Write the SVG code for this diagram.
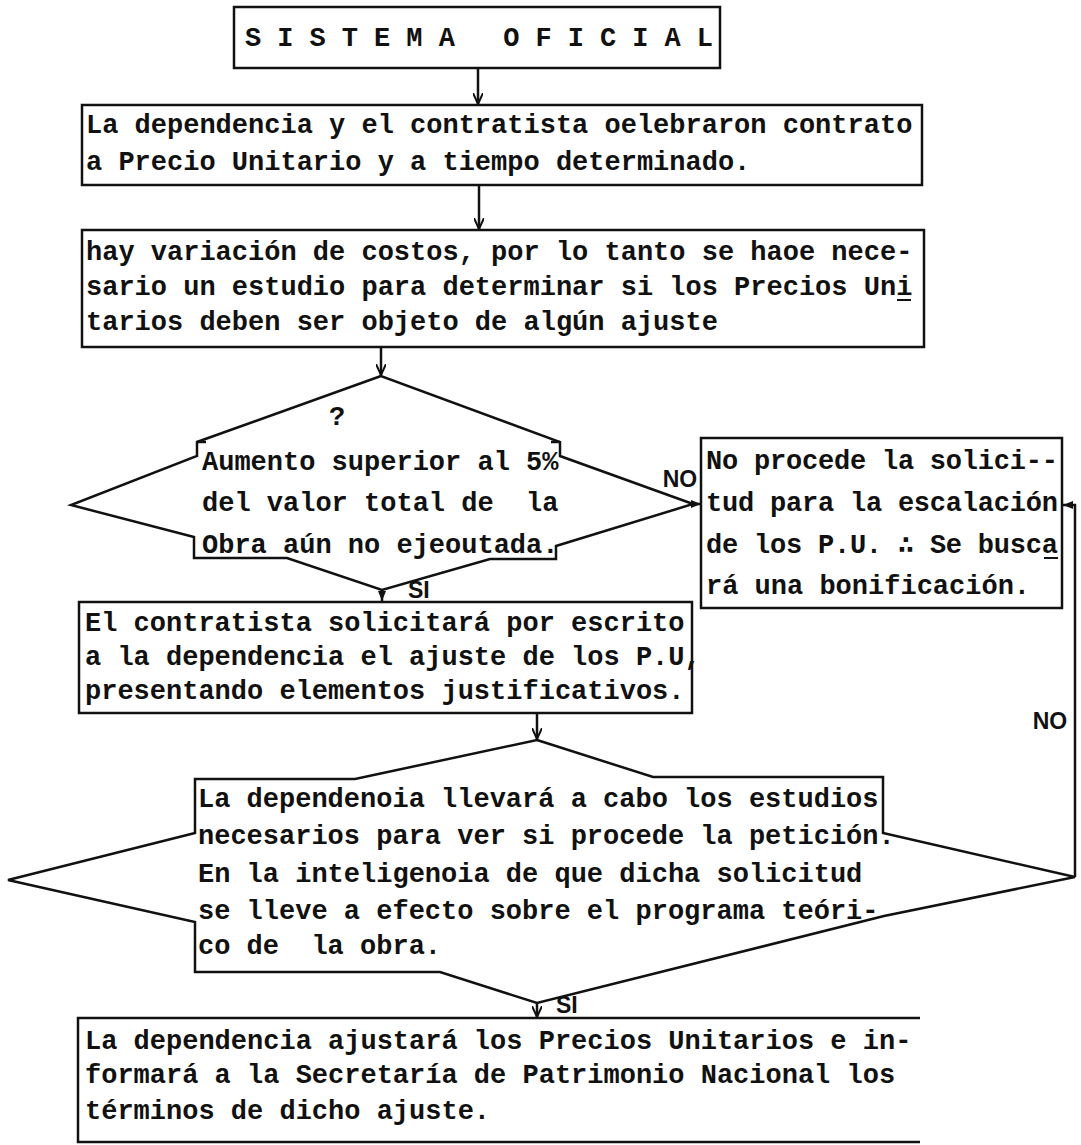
<svg xmlns="http://www.w3.org/2000/svg" width="1081" height="1145" viewBox="0 0 1081 1145">
<style>
.box{fill:none;stroke:#111;stroke-width:2.5;stroke-linejoin:miter}
.conn{fill:none;stroke:#111;stroke-width:2.5}
.t{font-family:"Liberation Mono","DejaVu Sans Mono",monospace;font-size:27px;font-weight:bold;fill:#111;white-space:pre}
.lbl{font-family:"Liberation Sans","DejaVu Sans",sans-serif;font-size:23px;font-weight:bold;fill:#111}
</style>
<defs>
<marker id="arrV" viewBox="0 0 12 10" refX="11" refY="5" markerWidth="12" markerHeight="10" markerUnits="userSpaceOnUse" orient="auto">
<path d="M0,0 L11,5 L0,10" fill="none" stroke="#111" stroke-width="2"/>
</marker>
<marker id="arrF" viewBox="0 0 10 8" refX="10" refY="4" markerWidth="10" markerHeight="8" markerUnits="userSpaceOnUse" orient="auto">
<path d="M0,0 L10,4 L0,8 Z" fill="#111"/>
</marker>
</defs>
<rect width="1081" height="1145" fill="#fff"/>

<g id="n-sistema">
<rect class="box" x="234" y="7" width="486" height="61"/>
<text class="t" x="245" y="46" textLength="468" lengthAdjust="spacing">S I S T E M A   O F I C I A L</text>
</g>

<g id="n-contrato">
<rect class="box" x="82" y="105" width="840" height="80"/>
<text class="t" x="86" y="133">La dependencia y el contratista oelebraron contrato</text>
<text class="t" x="86" y="170">a Precio Unitario y a tiempo determinado.</text>
</g>

<g id="n-variacion">
<rect class="box" x="82" y="230" width="842" height="117"/>
<text class="t" x="86" y="260">hay variación de costos, por lo tanto se haoe nece-</text>
<text class="t" x="86" y="295">sario un estudio para determinar si los Precios Uni</text>
<line x1="897" y1="300" x2="911" y2="300" stroke="#111" stroke-width="2"/>
<text class="t" x="86" y="330">tarios deben ser objeto de algún ajuste</text>
</g>

<g id="d-aumento">
<path class="box" d="M381,376 L197,442 L197,456 L71,505 L194,537 L194,558 L287,558 L382,590 L490,559 L556,559 L556,546 L693,504 L560,456 L560,442 Z"/>
<path class="box" d="M197,442 L206,442 M560,442 L551,442"/>
<text class="t" x="329" y="425">?</text>
<text class="t" x="202" y="470">Aumento superior al 5%</text>
<text class="t" x="202" y="511">del valor total de  la</text>
<text class="t" x="202" y="553">Obra aún no ejeoutada.</text>
</g>

<g id="n-noprocede">
<rect class="box" x="701" y="438" width="361" height="170"/>
<text class="t" x="706" y="469" textLength="352" lengthAdjust="spacing">No procede la solici--</text>
<text class="t" x="706" y="511" textLength="352" lengthAdjust="spacing">tud para la escalación</text>
<text class="t" x="706" y="553" textLength="352" lengthAdjust="spacing">de los P.U. ∴ Se busca</text>
<line x1="1044" y1="558" x2="1058" y2="558" stroke="#111" stroke-width="2"/>
<text class="t" x="706" y="594">rá una bonificación.</text>
</g>

<g id="n-solicita">
<rect class="box" x="79" y="602" width="613" height="111"/>
<text class="t" x="85" y="631">El contratista solicitará por escrito</text>
<text class="t" x="85" y="665">a la dependencia el ajuste de los P.U,</text>
<text class="t" x="85" y="699">presentando elementos justificativos.</text>
</g>

<g id="d-estudios">
<path class="box" d="M537,740 L653,777 L883,777 L883,833 L1075,877 L884,916 L537,1003 L440,972 L195,972 L195,922 L8,880 L195,833 L195,779 L355,779 Z"/>
<text class="t" x="198" y="807">La dependenoia llevará a cabo los estudios</text>
<text class="t" x="198" y="844">necesarios para ver si procede la petición.</text>
<text class="t" x="198" y="882">En la inteligenoia de que dicha solicitud</text>
<text class="t" x="198" y="919">se lleve a efecto sobre el programa teóri-</text>
<text class="t" x="198" y="954">co de  la obra.</text>
</g>

<g id="n-ajusta">
<path class="box" d="M920,1018 L78,1018 L78,1142 L920,1142"/>
<text class="t" x="85" y="1049">La dependencia ajustará los Precios Unitarios e in-</text>
<text class="t" x="85" y="1083">formará a la Secretaría de Patrimonio Nacional los</text>
<text class="t" x="85" y="1119">términos de dicho ajuste.</text>
</g>

<g id="connectors">
<line class="conn" x1="478" y1="68" x2="478" y2="104" marker-end="url(#arrV)"/>
<line class="conn" x1="479" y1="185" x2="479" y2="229" marker-end="url(#arrV)"/>
<line class="conn" x1="381" y1="347" x2="381" y2="375" marker-end="url(#arrV)"/>
<line class="conn" x1="382" y1="590" x2="382" y2="601" marker-end="url(#arrF)"/>
<line class="conn" x1="537" y1="713" x2="537" y2="739" marker-end="url(#arrV)"/>
<line class="conn" x1="537" y1="1003" x2="537" y2="1017" marker-end="url(#arrV)"/>
<line class="conn" x1="693" y1="504" x2="701" y2="504" marker-end="url(#arrF)"/>
<polyline class="conn" points="1075,877 1075,505 1063,505" marker-end="url(#arrF)"/>
<text class="lbl" x="680" y="487" text-anchor="middle">NO</text>
<text class="lbl" x="408" y="598">SI</text>
<text class="lbl" x="1050" y="729" text-anchor="middle">NO</text>
<text class="lbl" x="556" y="1013">SI</text>
</g>
</svg>
